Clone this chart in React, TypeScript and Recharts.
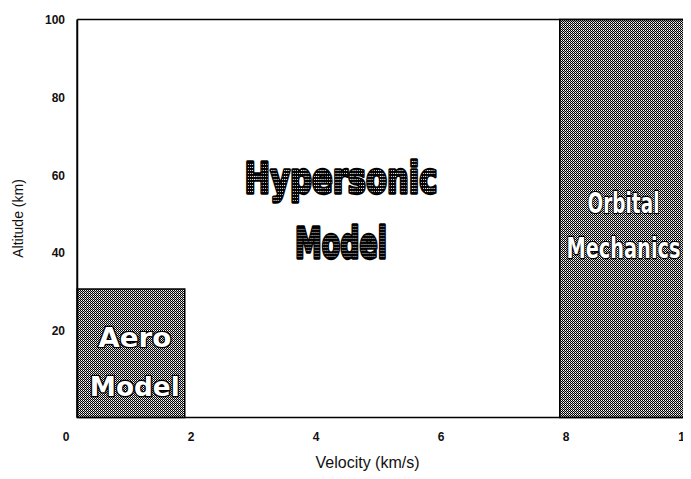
import {
  ComposedChart,
  XAxis,
  YAxis,
  ReferenceArea,
  ReferenceLine,
  ReferenceDot,
} from "recharts";

// flight regimes (velocity km/s, altitude km)
const regimes = ["Aero Model", "Orbital Mechanics"];
const velocityFrom = [0.18, 7.9];
const velocityTo = [1.9, 10];
const altitudeFrom = [-2.2, -2.2];
const altitudeTo = [30.8, 100];

const xTicks = [0, 2, 4, 6, 8, 10];
const yTicks = [20, 40, 60, 80, 100];

const FONT = '"Liberation Sans", Arial, Helvetica, sans-serif';
const HEAVY = '"DejaVu Sans", sans-serif';

// em = approx natural advance of the word in DejaVu Sans Bold, len = wanted px width
type Line = { text: string; dy: number; size: number; em: number; len: number };

const outlinedLabel =
  (lines: Line[], dark: boolean) =>
  (props: any) => {
    const vb = props.viewBox || {};
    const cx = vb.x + (vb.width || 0) / 2;
    const cy = vb.y + (vb.height || 0) / 2;
    return (
      <g>
        {lines.map((l) => {
          const sx = l.len / (l.em * l.size);
          return (
            <text
              key={l.text}
              x={0}
              y={0}
              transform={`translate(${cx} ${cy + l.dy}) scale(${sx} 1)`}
              textAnchor="middle"
              fontFamily={HEAVY}
              fontWeight={700}
              fontSize={l.size}
              fill={dark ? "url(#halftoneText)" : "#ffffff"}
              stroke="#000"
              strokeWidth={dark ? 3.4 : 2.6}
              strokeLinejoin="round"
              style={{ paintOrder: "stroke" }}
            >
              {l.text}
            </text>
          );
        })}
      </g>
    );
  };

export default function App() {
  return (
    <div style={{ width: 683, height: 471 }}>
      <ComposedChart
        width={683}
        height={471}
        margin={{ top: 11.5, right: 0, bottom: 1.5, left: 0 }}
      >
        <defs>
          <pattern id="halftone" width="2" height="2" patternUnits="userSpaceOnUse">
            <rect width="2" height="2" fill="#000" />
            <rect x="1" y="0" width="1" height="1" fill="#ffffff" />
            <rect x="0" y="1" width="1" height="1" fill="#b4b4b4" />
          </pattern>
          <pattern id="halftoneText" width="3" height="3" patternUnits="userSpaceOnUse">
            <rect width="3" height="3" fill="#000" />
            <rect x="1" y="1" width="1" height="1" fill="#ffffff" />
            <rect x="2" y="1" width="1" height="1" fill="#9a9a9a" />
          </pattern>
        </defs>
        <XAxis
          type="number"
          dataKey="v"
          domain={[0, 10]}
          ticks={xTicks}
          allowDataOverflow
          axisLine={false}
          tickLine={false}
          tickSize={0}
          tickMargin={15}
          height={60}
          tick={{ fontSize: 12, fontWeight: 700, fill: "#111", fontFamily: FONT }}
          label={{
            value: "Velocity (km/s)",
            position: "center",
            dx: -11,
            dy: 15,
            style: { fontSize: 16, fill: "#111", fontFamily: FONT },
          }}
        />
        <YAxis
          type="number"
          dataKey="h"
          domain={[-2.2, 100]}
          ticks={yTicks}
          allowDataOverflow
          axisLine={false}
          tickLine={false}
          tickSize={0}
          tickMargin={1}
          width={58}
          tick={{ fontSize: 12, fontWeight: 700, fill: "#111", fontFamily: FONT }}
          label={{
            value: "Altitude (km)",
            angle: -90,
            position: "center",
            dx: -19,
            style: { fontSize: 14, fill: "#111", fontFamily: FONT, textAnchor: "middle" },
          }}
        />
        {regimes.map((name, i) => (
          <ReferenceArea
            key={name}
            x1={velocityFrom[i]}
            x2={velocityTo[i]}
            y1={altitudeFrom[i]}
            y2={altitudeTo[i]}
            fill="url(#halftone)"
            fillOpacity={1}
            stroke="#000"
            strokeWidth={1.5}
            ifOverflow="visible"
          />
        ))}
        <ReferenceLine x={0.18} stroke="#000" strokeWidth={2} />
        <ReferenceLine
          segment={[{ x: 0.18, y: 100 }, { x: 10, y: 100 }]}
          stroke="#000"
          strokeWidth={1.6}
        />
        <ReferenceLine
          segment={[{ x: 0.18, y: -2.2 }, { x: 10, y: -2.2 }]}
          stroke="#000"
          strokeWidth={1.6}
        />
        <ReferenceDot
          x={1.1}
          y={12.2}
          r={0}
          fill="none"
          stroke="none"
          label={outlinedLabel(
            [
              { text: "Aero", dy: -14.5, size: 26, em: 2.632, len: 73 },
              { text: "Model", dy: 34.5, size: 26, em: 3.419, len: 90 },
            ],
            false
          )}
        />
        <ReferenceDot
          x={8.92}
          y={47.5}
          r={0}
          fill="none"
          stroke="none"
          label={outlinedLabel(
            [
              { text: "Orbital", dy: -11, size: 28, em: 3.898, len: 72 },
              { text: "Mechanics", dy: 34, size: 28, em: 5.896, len: 114 },
            ],
            false
          )}
        />
        <ReferenceDot
          x={4.4}
          y={51.1}
          r={0}
          fill="none"
          stroke="none"
          label={outlinedLabel(
            [
              { text: "Hypersonic", dy: -17, size: 43, em: 6.306, len: 193 },
              { text: "Model", dy: 48, size: 43, em: 3.419, len: 92 },
            ],
            true
          )}
        />
      </ComposedChart>
    </div>
  );
}
